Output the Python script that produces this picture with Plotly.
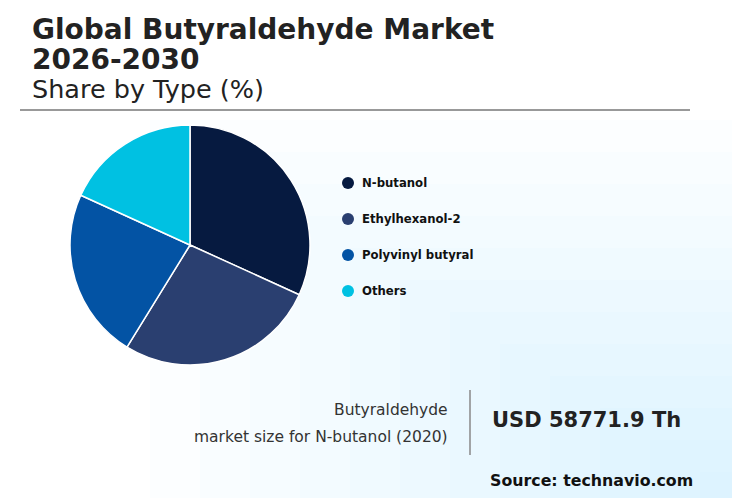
import plotly.graph_objects as go

types = ["N-butanol", "Ethylhexanol-2", "Polyvinyl butyral", "Others"]
shares = [31.8, 27.0, 23.0, 18.2]
colors = ["#061a40", "#2a3f70", "#0353a4", "#00c1e2"]

W, H = 740, 498
OFF = 8  # page body margin
def px(x): return (x - OFF) / W
def py(y): return 1 - (y - OFF) / H

fig = go.Figure()
fig.add_trace(go.Pie(labels=types, values=shares, sort=False, direction="clockwise",
                     rotation=0, marker=dict(colors=colors, line=dict(color="white", width=1.5)),
                     textinfo="none", hoverinfo="label+percent", showlegend=False,
                     domain=dict(x=[px(70), px(310)], y=[py(365), py(125)])))

F = "DejaVu Sans"
ann = [
    dict(x=px(30), y=py(30), text="<b>Global Butyraldehyde Market</b>", size=28, color="#222"),
    dict(x=px(30), y=py(60), text="<b>2026-2030</b>", size=28, color="#222"),
    dict(x=px(30), y=py(89), text="Share by Type (%)", size=25.5, color="#222"),
]
annotations = [dict(xref="paper", yref="paper", x=a["x"], y=a["y"], text=a["text"],
                    showarrow=False, xanchor="left", yanchor="middle",
                    font=dict(family=F, size=a["size"], color=a["color"])) for a in ann]
shapes = [dict(type="line", xref="paper", yref="paper", x0=px(20), x1=px(690), y0=py(110), y1=py(110),
               line=dict(color="#777", width=1.5)),
          dict(type="line", xref="paper", yref="paper", x0=px(470), x1=px(470), y0=py(390), y1=py(455),
               line=dict(color="#888", width=1.5))]

for i, (t, c) in enumerate(zip(types, colors)):
    yy = 183 + 36 * i
    shapes.append(dict(type="circle", xref="paper", yref="paper", x0=px(342), x1=px(354),
                       y0=py(yy + 6), y1=py(yy - 6), fillcolor=c, line=dict(width=0)))
    annotations.append(dict(xref="paper", yref="paper", x=px(360), y=py(yy), text=f"<b>{t}</b>",
                            showarrow=False, xanchor="left", yanchor="middle",
                            font=dict(family=F, size=11.7, color="#111")))

annotations += [
    dict(xref="paper", yref="paper", x=px(450), y=py(410), text="Butyraldehyde", showarrow=False,
         xanchor="right", yanchor="middle", font=dict(family=F, size=15.5, color="#333")),
    dict(xref="paper", yref="paper", x=px(450), y=py(437), text="market size for N-butanol (2020)",
         showarrow=False, xanchor="right", yanchor="middle", font=dict(family=F, size=15.5, color="#333")),
    dict(xref="paper", yref="paper", x=px(490), y=py(420), text="<b>USD 58771.9 Th</b>", showarrow=False,
         xanchor="left", yanchor="middle", font=dict(family=F, size=21, color="#222")),
    dict(xref="paper", yref="paper", x=px(695), y=py(480), text="<b>Source: technavio.com</b>",
         showarrow=False, xanchor="right", yanchor="middle", font=dict(family=F, size=15.8, color="#111")),
]

# soft blue wash toward the bottom-right corner
for k in range(12):
    shapes.insert(0, dict(type="rect", xref="paper", yref="paper", layer="below",
                          x0=px(150 + 50 * k), x1=1, y0=0, y1=py(120 + 32 * k),
                          fillcolor="#a8e0f4", opacity=0.035, line=dict(width=0)))

fig.update_layout(width=W, height=H, margin=dict(l=0, r=0, t=0, b=0),
                  paper_bgcolor="white", plot_bgcolor="white",
                  annotations=annotations, shapes=shapes)
fig.write_html("out.html")
